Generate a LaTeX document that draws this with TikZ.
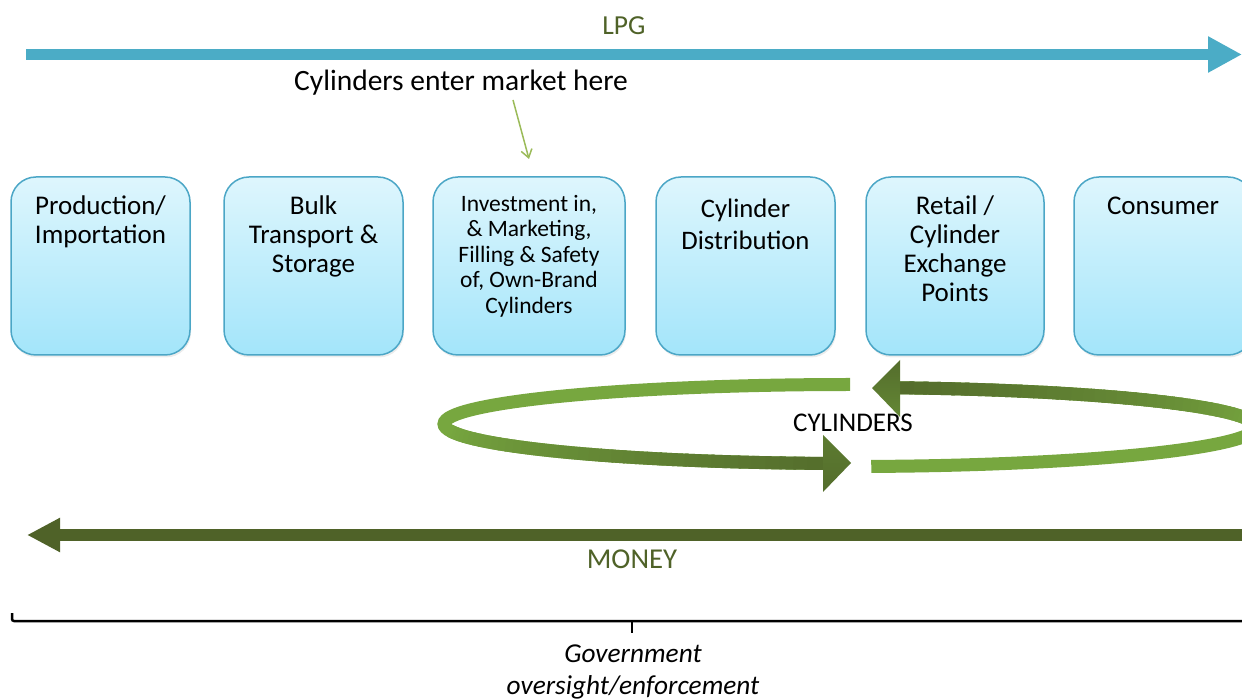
\documentclass[tikz,border=0pt]{standalone}
\usepackage{fontspec}
\setmainfont{Carlito}
\usetikzlibrary{arrows.meta,shadows}
\definecolor{lpgblue}{HTML}{4BACC6}
\definecolor{moneygreen}{HTML}{4F6228}
\definecolor{boxtop}{HTML}{DEF6FD}
\definecolor{boxbot}{HTML}{A3E5FA}
\definecolor{boxline}{HTML}{4BA6C6}
\definecolor{ribbonlight}{HTML}{77A73F}
\definecolor{ribbondark}{HTML}{546D2C}
\definecolor{pointer}{HTML}{9BBB59}
\begin{document}
\begin{tikzpicture}[x=1pt,y=1pt,
  stagebox/.style={draw=boxline, line width=1.5pt, rounded corners=25pt,
    top color=boxtop, bottom color=boxbot, minimum width=179pt, minimum height=178pt,
    inner sep=0pt, drop shadow={opacity=0.15, shadow xshift=1pt, shadow yshift=-2.5pt}},
  boxtext/.style={anchor=north, align=center, inner sep=0pt, font=\fontsize{27}{29}\selectfont},
  label/.style={anchor=base, inner sep=0pt},
  ribbon/.style={line width=13pt}
]
\useasboundingbox (0,0) rectangle (1242,699);
\clip (0,0) rectangle (1242,699);

% LPG arrow
\coordinate (lpgstart) at (26,644.5);
\coordinate (lpgend) at (1242,644.5);
\draw[lpgblue, line width=11pt, -{Triangle[length=34pt,width=34pt]}] (lpgstart) -- (lpgend);
\node[label, text=moneygreen, font=\fontsize{27.5}{30}\selectfont] (lpg) at (624,664) {LPG};

% Cylinders enter market here
\node[label, font=\fontsize{29.5}{32}\selectfont] (enter) at (461,608) {Cylinders enter market here};
\coordinate (ptrstart) at (513,599);
\coordinate (ptrend) at (529,540);
\draw[pointer, line width=1.5pt, -{Straight Barb[length=8pt,width=11pt]}] (ptrstart) -- (ptrend);

% Stage boxes
\node[stagebox] (b1) at (100.5,433) {};
\node[stagebox] (b2) at (313.5,433) {};
\node[stagebox, minimum width=192pt] (b3) at (529,433) {};
\node[stagebox] (b4) at (745.5,433) {};
\node[stagebox, minimum width=178pt] (b5) at (955,433) {};
\node[stagebox] (b6) at (1163.5,433) {};

\node[boxtext] (t1) at ([yshift=-18pt]b1.north) {\rule{0pt}{20pt}Production/\\Importation};
\node[boxtext] (t2) at ([yshift=-18pt]b2.north) {\rule{0pt}{20pt}Bulk\\Transport \&\\Storage};
\node[boxtext, font=\fontsize{23.5}{25.5}\selectfont] (t3) at ([yshift=-15pt]b3.north)
  {\rule{0pt}{20pt}Investment in,\\\& Marketing,\\Filling \& Safety\\of, Own-Brand\\Cylinders};
\node[boxtext, font=\fontsize{26.7}{32}\selectfont] (t4) at ([yshift=-21pt]b4.north) {\rule{0pt}{20pt}Cylinder\\Distribution};
\node[boxtext] (t5) at ([yshift=-18pt]b5.north) {\rule{0pt}{20pt}Retail /\\Cylinder\\Exchange\\Points};
\node[boxtext] (t6) at ([yshift=-18pt]b6.north -| 1163,0) {\rule{0pt}{20pt}Consumer};

% Cylinder cycle: upper-left arrow, going round the left end
\draw[ribbon, draw=ribbonlight] (850,314.5) arc[start angle=90, end angle=266.3, x radius=406, y radius=39.5];
\foreach \a in {190,192,...,264} {
  \pgfmathsetmacro{\mixv}{max(0,min(100,(\a-190)/76*100))}
  \draw[ribbon, draw=ribbondark!\mixv!ribbonlight]
    ({850+406*cos(\a)},{275+39.5*sin(\a)}) arc[start angle=\a, end angle=\a+2.4, x radius=406, y radius=39.5];
}
\coordinate (ha1) at (823,264);
\coordinate (ha2) at (851,236);
\coordinate (ha3) at (823,207);
\shade[top color=ribbondark!75!ribbonlight, bottom color=ribbondark] (ha1) -- (ha2) -- (ha3) -- cycle;

% Cylinder cycle: lower-right arrow, going round the right end
\draw[ribbon, draw=ribbonlight] ({850+406*cos(273)},{272+39.5*sin(273)}) arc[start angle=273, end angle=443.6, x radius=406, y radius=39.5];
\foreach \a in {365,367,...,441} {
  \pgfmathsetmacro{\mixv}{max(0,min(100,(\a-365)/76*100))}
  \draw[ribbon, draw=ribbondark!\mixv!ribbonlight]
    ({850+406*cos(\a)},{272+39.5*sin(\a)}) arc[start angle=\a, end angle=\a+2.6, x radius=406, y radius=39.5];
}
\coordinate (hb1) at (900,339);
\coordinate (hb2) at (872,311);
\coordinate (hb3) at (900,282);
\shade[top color=ribbondark, bottom color=ribbondark!55!ribbonlight] (hb1) -- (hb2) -- (hb3) -- cycle;

\node[label, font=\fontsize{27}{30}\selectfont] (cyl) at (853,267) {CYLINDERS};

% MONEY arrow
\coordinate (moneystart) at (1250,164);
\coordinate (moneyend) at (27,164);
\draw[moneygreen, line width=12pt, -{Triangle[length=33pt,width=32pt]}] (moneystart) -- (moneyend);
\node[label, text=moneygreen, font=\fontsize{28.8}{30}\selectfont] (money) at (632,130) {MONEY};

% Government bracket
\coordinate (brl) at (12,86);
\coordinate (brm) at (632,78);
\coordinate (brr) at (1250,78);
\coordinate (brt) at (632,66);
\draw[line width=2.5pt, rounded corners=2pt] (brl) |- (brr);
\draw[line width=2.5pt] (brm) -- (brt);
\node[label, font=\itshape\fontsize{27.3}{30}\selectfont] (gov1) at (633,37) {Government};
\node[label, font=\itshape\fontsize{27.3}{30}\selectfont] (gov2) at (633,5) {oversight/enforcement};
\end{tikzpicture}
\end{document}
